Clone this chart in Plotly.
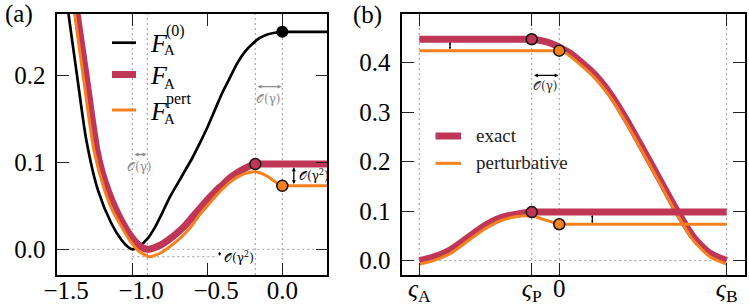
import plotly.graph_objects as go

# ---------------- data ----------------
# panel (a): free energy along x
a_F0_x = [-1.44, -1.425, -1.367, -1.307, -1.229, -1.14, -1.073, -1.03, -1.0, -0.95, -0.9, -0.85, -0.8,
          -0.75, -0.7, -0.65, -0.6, -0.55, -0.5, -0.45, -0.4, -0.35, -0.3, -0.25, -0.2, -0.15, -0.1,
          -0.05, 0.0, 0.05, 0.15, 0.3]
a_F0_y = [0.29, 0.27, 0.198, 0.126, 0.068, 0.030, 0.011, 0.003, 0.0, 0.004, 0.012, 0.025, 0.042,
          0.06, 0.075, 0.09, 0.105, 0.122, 0.14, 0.16, 0.18, 0.197, 0.214, 0.227, 0.236, 0.243, 0.247,
          0.249, 0.25, 0.25, 0.25, 0.25]

a_FA_x = [-1.385, -1.367, -1.30, -1.236, -1.20, -1.162, -1.11, -1.063, -1.0, -0.95, -0.9, -0.85, -0.8,
          -0.75, -0.7, -0.65, -0.6, -0.55, -0.5, -0.45, -0.4, -0.35, -0.3, -0.25, -0.2, -0.18, -0.12,
          0.0, 0.1, 0.2, 0.3]
a_FA_y = [0.29, 0.27, 0.19, 0.114, 0.088, 0.068, 0.046, 0.030, 0.013, 0.004, 0.0, 0.002, 0.006,
          0.012, 0.019, 0.027, 0.037, 0.047, 0.057, 0.066, 0.074, 0.082, 0.088, 0.093, 0.097, 0.098, 0.098,
          0.098, 0.098, 0.098, 0.098]

a_Fpert_x = [-1.393, -1.383, -1.32, -1.256, -1.185, -1.13, -1.085, -1.02, -0.95, -0.885, -0.85, -0.8,
             -0.75, -0.7, -0.65, -0.6, -0.55, -0.5, -0.45, -0.4, -0.35, -0.3, -0.25, -0.2, -0.15,
             -0.1, -0.05, 0.0, 0.04, 0.15, 0.3]
a_Fpert_y = [0.29, 0.27, 0.19, 0.114, 0.068, 0.044, 0.030, 0.011, -0.003, -0.0085, -0.007, -0.003,
             0.003, 0.010, 0.018, 0.028, 0.040, 0.050, 0.060, 0.069, 0.077, 0.083, 0.087, 0.089, 0.088,
             0.084, 0.078, 0.073, 0.073, 0.073, 0.073]

a_vlines = [-1.0, -0.9, -0.18, 0.0]          # minima / maxima positions
a_pert_min = -0.0085
a_xticks = [-1.5, -1.0, -0.5, 0.0]
a_xticklabels = ["\u2002\u2009\u22121.5", "\u2002\u2009\u22121.0", "\u2002\u2009\u22120.5", "0.0"]
a_yticks = [0.0, 0.1, 0.2]
a_yticklabels = ["0.0", "0.1", "0.2"]

# panel (b): forward (lower) and backward (upper) profiles along the path
b_lowA_x = [-0.915, -0.824, -0.714, -0.605, -0.497, -0.388, -0.278, -0.18, -0.12, 0.0, 0.5, 1.094]
b_lowA_y = [0.0, 0.007, 0.0216, 0.045, 0.069, 0.086, 0.094, 0.098, 0.098, 0.098, 0.098, 0.098]
b_lowP_x = [-0.915, -0.824, -0.714, -0.605, -0.497, -0.388, -0.278, -0.18, -0.09, 0.0, 0.04, 0.5, 1.094]
b_lowP_y = [-0.007, 0.0, 0.014, 0.038, 0.062, 0.080, 0.089, 0.090, 0.082, 0.0735, 0.0735, 0.0735, 0.0735]

b_upA_x = [-0.915, -0.5, -0.22, -0.18, -0.13, -0.09, -0.04, 0.0, 0.07, 0.222, 0.331, 0.44, 0.549, 0.658,
           0.767, 0.876, 0.985, 1.094]
b_upA_y = [0.447, 0.447, 0.447, 0.447, 0.445, 0.442, 0.437, 0.431, 0.419, 0.379, 0.338, 0.284, 0.224, 0.163,
           0.102, 0.048, 0.015, 0.0]
b_upP_x = [-0.915, -0.5, -0.04, 0.0, 0.035, 0.07, 0.222, 0.331, 0.44, 0.549, 0.658, 0.767, 0.876, 0.985, 1.094]
b_upP_y = [0.424, 0.424, 0.424, 0.424, 0.420, 0.413, 0.372, 0.331, 0.277, 0.217, 0.156, 0.095, 0.041, 0.008,
           -0.007]

b_xticks = [-0.915, -0.18, 0.0, 1.094]
b_xticklabels = ["<i>ς</i><sub>A</sub>", "<i>ς</i><sub>P</sub>", "0", "<i>ς</i><sub>B</sub>"]
b_yticks = [0.0, 0.1, 0.2, 0.3, 0.4]
b_yticklabels = ["0.0", "0.1", "0.2", "0.3", "0.4"]

# ---------------- styles ----------------
W, H = 749, 308
RED = "#BF3656"
ORANGE = "#F5801E"
GREY = "#8c8c8c"
SERIF = "Liberation Serif"


def PX(x):
    return x / W


def PY(y):
    return 1 - y / H


fig = go.Figure()


def line(x, y, color, width, xa="x", ya="y"):
    fig.add_trace(go.Scatter(x=x, y=y, mode="lines", xaxis=xa, yaxis=ya, showlegend=False,
                             line=dict(color=color, width=width, shape="spline", smoothing=0.7),
                             hoverinfo="skip"))


def dots(x, y, color, size, edge, xa="x", ya="y"):
    fig.add_trace(go.Scatter(x=x, y=y, mode="markers", xaxis=xa, yaxis=ya, showlegend=False,
                             marker=dict(color=color, size=size, line=dict(color="#111", width=edge)),
                             cliponaxis=False, hoverinfo="skip"))


# panel (a)
line(a_F0_x, a_F0_y, "black", 2.7)
line(a_FA_x, a_FA_y, RED, 7)
line(a_Fpert_x, a_Fpert_y, ORANGE, 3)
dots([a_vlines[3]], [a_F0_y[a_F0_x.index(0.0)]], "black", 12, 0)
dots([a_vlines[2]], [a_FA_y[a_FA_x.index(-0.18)]], RED, 11, 1.5)
dots([a_vlines[3]], [a_Fpert_y[a_Fpert_x.index(0.0)]], ORANGE, 11, 1.5)

# panel (b)
line(b_upA_x, b_upA_y, RED, 7, "x2", "y2")
line(b_upP_x, b_upP_y, ORANGE, 3, "x2", "y2")
line(b_lowA_x, b_lowA_y, RED, 7, "x2", "y2")
line(b_lowP_x, b_lowP_y, ORANGE, 3, "x2", "y2")
dots([b_xticks[1], b_xticks[1]], [b_upA_y[3], b_lowA_y[7]], RED, 11, 1.5, "x2", "y2")
dots([b_xticks[2], b_xticks[2]], [b_upP_y[3], b_lowP_y[9]], ORANGE, 11, 1.5, "x2", "y2")

shapes = []
DOT = dict(color="#9a9a9a", width=1, dash="2px,3px")
for xv in a_vlines:
    shapes.append(dict(type="line", xref="x", yref="y domain", x0=xv, x1=xv, y0=0, y1=1,
                       line=DOT, layer="below"))
shapes.append(dict(type="line", xref="x domain", yref="y", x0=0, x1=1, y0=0, y1=0, line=DOT, layer="below"))
shapes.append(dict(type="line", xref="x", yref="y", x0=a_vlines[0], x1=-0.43, y0=a_pert_min, y1=a_pert_min,
                   line=DOT, layer="below"))
for xv in b_xticks:
    shapes.append(dict(type="line", xref="x2", yref="y2 domain", x0=xv, x1=xv, y0=0, y1=1,
                       line=DOT, layer="below"))
shapes.append(dict(type="line", xref="x2", yref="y2", x0=b_xticks[0], x1=b_xticks[3], y0=0, y1=0,
                   line=DOT, layer="below"))

annotations = []

# legend (a)
leg_a = [("black", 2.7, 42.7), (RED, 7, 74.5), (ORANGE, 3, 110)]
for col, wd, yy in leg_a:
    shapes.append(dict(type="line", xref="paper", yref="paper", x0=PX(112), x1=PX(136), y0=PY(yy), y1=PY(yy),
                       line=dict(color=col, width=wd)))
for yy, sub_dy, sup, sup_dy in [(43, 7, "(0)", -12), (76, 8, None, 0), (111, 8, "pert", -12)]:
    annotations.append(dict(xref="paper", yref="paper", x=PX(148), y=PY(yy), xanchor="left", yanchor="middle",
                            text="<i>F</i>", showarrow=False, font=dict(family=SERIF, size=26, color="black")))
    annotations.append(dict(xref="paper", yref="paper", x=PX(162), y=PY(yy + sub_dy), xanchor="left",
                            yanchor="middle", text="A", showarrow=False,
                            font=dict(family=SERIF, size=15, color="black")))
    if sup:
        annotations.append(dict(xref="paper", yref="paper", x=PX(164), y=PY(yy + sup_dy), xanchor="left",
                                yanchor="middle", text=sup, showarrow=False,
                                font=dict(family=SERIF, size=16, color="black")))

# legend (b)
for col, wd, yy, txt in [(RED, 7, 136, "exact"), (ORANGE, 3, 163.3, "perturbative")]:
    shapes.append(dict(type="line", xref="paper", yref="paper", x0=PX(435.5), x1=PX(461), y0=PY(yy), y1=PY(yy),
                       line=dict(color=col, width=wd)))
    annotations.append(dict(xref="paper", yref="paper", x=PX(474), y=PY(yy - 1), xanchor="left", yanchor="middle",
                            text=txt, showarrow=False, font=dict(family=SERIF, size=19, color="#222")))

# panel labels
annotations.append(dict(xref="paper", yref="paper", x=PX(3), y=PY(14), xanchor="left", yanchor="middle",
                        text="(a)", showarrow=False, font=dict(family=SERIF, size=25, color="black")))
annotations.append(dict(xref="paper", yref="paper", x=PX(351), y=PY(15), xanchor="left", yanchor="middle",
                        text="(b)", showarrow=False, font=dict(family=SERIF, size=25, color="black")))


def arrow(xa, ya, x0, y0, x1, y1, color, size=0.6):
    annotations.append(dict(xref=xa, yref=ya, axref=xa, ayref=ya, x=x1, y=y1, ax=x0, ay=y0, text="",
                            showarrow=True, arrowside="end+start", arrowhead=2, arrowsize=size,
                            arrowwidth=1.3, arrowcolor=color, standoff=0, startstandoff=0))


def label(xa, ya, x, y, txt, color, size=12, anchor="center"):
    annotations.append(dict(xref=xa, yref=ya, x=x, y=y, text=txt, showarrow=False, xanchor=anchor,
                            yanchor="middle", font=dict(family="DejaVu Serif", size=size, color=color)))


OG = "\U0001D4AA(\u03b3)"
OG2 = "\U0001D4AA(\u03b3<sup>2</sup>)"
# (a) annotations
arrow("x", "y", -0.175, 0.187, -0.005, 0.187, GREY)
label("x", "y", -0.09, 0.173, OG, GREY)
arrow("x", "y", -0.995, 0.109, -0.905, 0.109, GREY)
label("x", "y", -0.95, 0.095, OG, GREY)
arrow("x", "y", 0.077, 0.096, 0.077, 0.075, "black")
label("x", "y", 0.1, 0.086, OG2, "black", 12, "left")
arrow("x", "y", -0.418, -0.001, -0.418, -0.0075, "black", 0.4)
label("x", "y", -0.405, -0.0085, OG2, "black", 12, "left")
# (b) annotations
arrow("x2", "y2", -0.175, 0.374, -0.005, 0.374, "black")
label("x2", "y2", -0.09, 0.352, OG, "#333")
arrow("x2", "y2", -0.714, 0.444, -0.714, 0.427, "black", 0.35)
arrow("x2", "y2", 0.216, 0.095, 0.216, 0.076, "black", 0.35)

axis_common = dict(showline=True, linecolor="black", linewidth=1.6, mirror="ticks", ticks="inside",
                   ticklen=12, tickwidth=1.3, tickcolor="#222", showgrid=False, zeroline=False,
                   automargin=False,
                   tickfont=dict(family=SERIF, size=25, color="black"), tickmode="array")

fig.update_layout(
    template="none",
    font=dict(family=SERIF, color="black"),
    width=W, height=H, margin=dict(l=0, r=0, t=0, b=0, pad=0),
    paper_bgcolor="white", plot_bgcolor="white", showlegend=False,
    xaxis=dict(domain=[PX(57.3), PX(327.3)], range=[-1.5, 0.3], tickvals=a_xticks, ticktext=a_xticklabels,
               anchor="y", ticklabelstandoff=-8, **axis_common),
    yaxis=dict(domain=[PY(275), PY(14)], range=[-0.0295, 0.2705], tickvals=a_yticks, ticktext=a_yticklabels,
               anchor="x", ticklabelstandoff=5, **axis_common),
    xaxis2=dict(domain=[PX(402.3), PX(744.7)], range=[-1.026, 1.212], tickvals=b_xticks,
                ticktext=b_xticklabels, anchor="y2", ticklabelstandoff=-10, **axis_common),
    yaxis2=dict(domain=[PY(275), PY(14)], range=[-0.029, 0.498], tickvals=b_yticks, ticktext=b_yticklabels,
                anchor="x2", ticklabelstandoff=5, **axis_common),
    shapes=shapes, annotations=annotations,
)

fig.write_html("out.html", config={"displayModeBar": False},
               post_script="document.body.style.margin='0';document.body.style.overflow='hidden';")
